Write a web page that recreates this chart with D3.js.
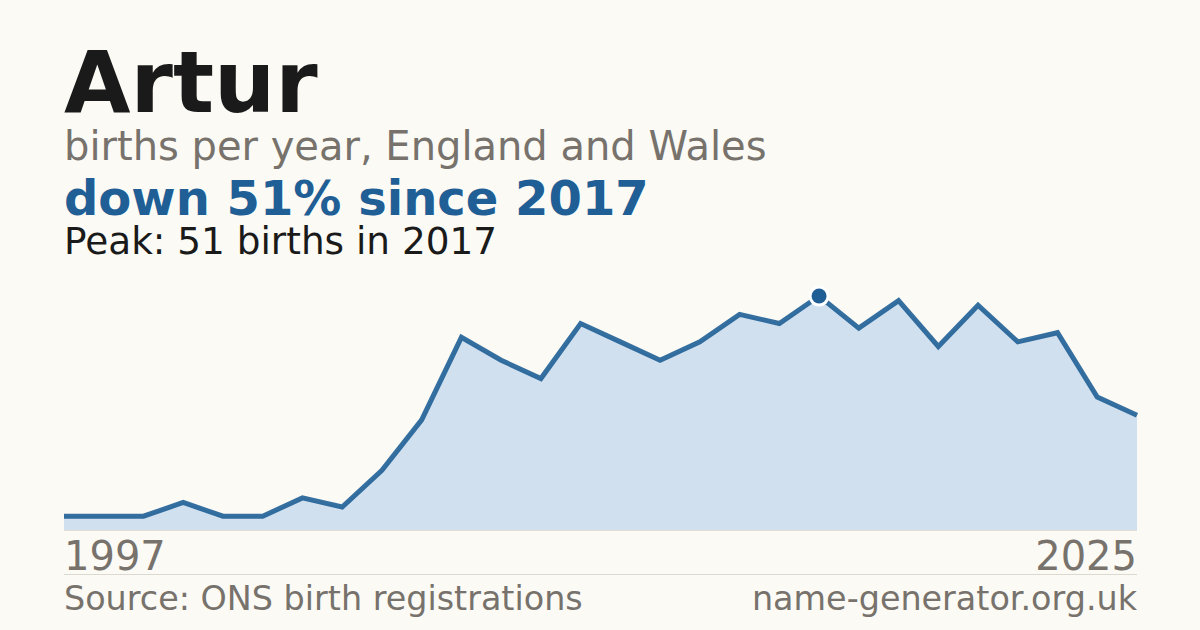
<!DOCTYPE html>
<html>
<head>
<meta charset="utf-8">
<script src="https://cdn.jsdelivr.net/npm/d3@7/dist/d3.min.js"></script>
<style>
  html, body { margin: 0; padding: 0; background: #fbfaf5; }
  svg { display: block; }
  text { font-family: "DejaVu Sans", sans-serif; }
</style>
</head>
<body>
<svg id="chart" width="1200" height="630"></svg>
<script>
// Data
const years  = [1997, 1998, 1999, 2001, 2002, 2003, 2004, 2005, 2006, 2007,
                2008, 2009, 2010, 2011, 2012, 2013, 2014, 2015, 2016, 2017,
                2018, 2019, 2020, 2021, 2022, 2023, 2024, 2025];
const births = [3, 3, 3, 6, 3, 3, 7, 5, 13, 24,
                42, 37, 33, 45, 41, 37, 41, 47, 45, 51,
                44, 50, 40, 49, 41, 43, 29, 25];
const axisLabels = ["1997", "2025"];
const titleText = "Artur";
const subtitleText = "births per year, England and Wales";
const changeText = "down 51% since 2017";
const peakText = "Peak: 51 births in 2017";
const sourceText = "Source: ONS birth registrations";
const siteText = "name-generator.org.uk";

(function () {
const svg = d3.select("#chart");
const W = 1200, H = 630;
const plotLeft = 64, plotRight = 1137, plotBottom = 530, plotTop = 296;

svg.append("rect").attr("width", W).attr("height", H).attr("fill", "#fbfaf5");

const data = years.map((yr, i) => ({ year: yr, value: births[i] }));

const x = d3.scalePoint().domain(years).range([plotLeft, plotRight]);
const y = d3.scaleLinear().domain([0, d3.max(births)]).range([plotBottom, plotTop]);

// Texts
svg.append("text").attr("x", plotLeft).attr("y", 112)
  .attr("font-size", 86).attr("font-weight", "bold").attr("fill", "#1a1a1a")
  .text(titleText);
svg.append("text").attr("x", plotLeft).attr("y", 160)
  .attr("font-size", 40).attr("fill", "#77726c")
  .text(subtitleText);
svg.append("text").attr("x", plotLeft).attr("y", 215)
  .attr("font-size", 48).attr("font-weight", "bold").attr("fill", "#1f5f96")
  .text(changeText);
svg.append("text").attr("x", plotLeft).attr("y", 254)
  .attr("font-size", 37.4).attr("fill", "#1a1a1a")
  .text(peakText);

// Area
const area = d3.area()
  .x(d => x(d.year))
  .y0(y(0))
  .y1(d => y(d.value));
svg.append("path").datum(data)
  .attr("d", area)
  .attr("fill", "#d0e0ef");

// Baseline
svg.append("line")
  .attr("x1", plotLeft).attr("x2", plotRight)
  .attr("y1", y(0) + 0.5).attr("y2", y(0) + 0.5)
  .attr("stroke", "#e2ded4").attr("stroke-width", 1);

// Line
const line = d3.line()
  .x(d => x(d.year))
  .y(d => y(d.value));
svg.append("path").datum(data)
  .attr("d", line)
  .attr("fill", "none")
  .attr("stroke", "#1f5f96")
  .attr("stroke-width", 5)
  .attr("stroke-opacity", 0.9)
  .attr("stroke-linejoin", "miter");

// Peak marker
const peak = data.reduce((a, b) => (b.value > a.value ? b : a));
svg.append("circle")
  .attr("cx", x(peak.year)).attr("cy", y(peak.value))
  .attr("r", 10.5).attr("fill", "#ffffff");
svg.append("circle")
  .attr("cx", x(peak.year)).attr("cy", y(peak.value))
  .attr("r", 7.5).attr("fill", "#1f5f96");

// Axis labels
svg.append("text").attr("x", plotLeft).attr("y", 570)
  .attr("font-size", 40).attr("fill", "#77726c")
  .text(axisLabels[0]);
svg.append("text").attr("x", plotRight).attr("y", 570)
  .attr("font-size", 40).attr("fill", "#77726c").attr("text-anchor", "end")
  .text(axisLabels[1]);

// Separator
svg.append("line")
  .attr("x1", plotLeft).attr("x2", plotRight)
  .attr("y1", 574.5).attr("y2", 574.5)
  .attr("stroke", "#dcd9d1").attr("stroke-width", 1);

// Footer
svg.append("text").attr("x", plotLeft).attr("y", 610)
  .attr("font-size", 33.4).attr("fill", "#77726c")
  .text(sourceText);
svg.append("text").attr("x", plotRight).attr("y", 610)
  .attr("font-size", 33.4).attr("fill", "#77726c").attr("text-anchor", "end")
  .text(siteText);
})();
</script>
</body>
</html>
